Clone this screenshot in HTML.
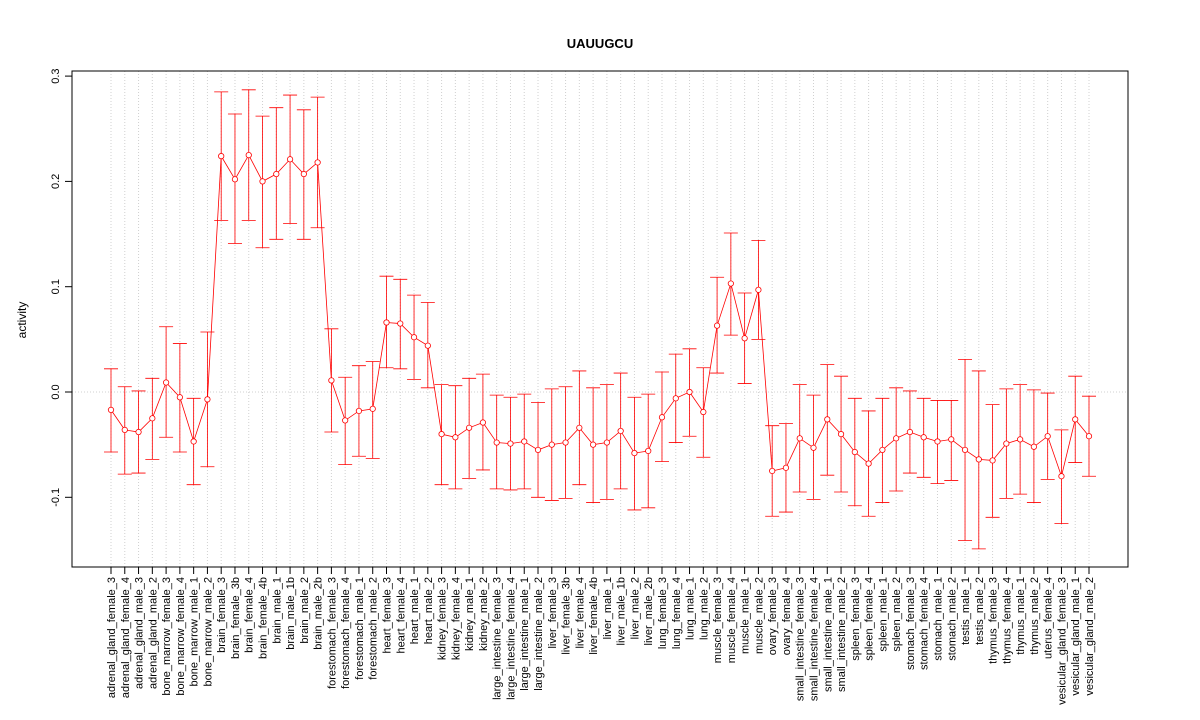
<!DOCTYPE html>
<html><head><meta charset="utf-8"><style>body{margin:0;background:#fff}svg{display:block;font-family:"Liberation Sans",sans-serif}</style></head>
<body>
<svg id="chart" width="1200" height="720" xmlns="http://www.w3.org/2000/svg">
<text x="600" y="48" text-anchor="middle" font-size="13" font-weight="bold">UAUUGCU</text>
<text transform="translate(26,320) rotate(-90)" text-anchor="middle" font-size="12">activity</text>
<g id="grid"></g><g id="axes"></g><g id="marks"></g>
<rect x="72" y="71" width="1056" height="496" fill="none" stroke="#000"/>
</svg>
<script>
const categories=["adrenal_gland_female_3","adrenal_gland_female_4","adrenal_gland_male_3","adrenal_gland_male_2","bone_marrow_female_3","bone_marrow_female_4","bone_marrow_male_1","bone_marrow_male_2","brain_female_3","brain_female_3b","brain_female_4","brain_female_4b","brain_male_1","brain_male_1b","brain_male_2","brain_male_2b","forestomach_female_3","forestomach_female_4","forestomach_male_1","forestomach_male_2","heart_female_3","heart_female_4","heart_male_1","heart_male_2","kidney_female_3","kidney_female_4","kidney_male_1","kidney_male_2","large_intestine_female_3","large_intestine_female_4","large_intestine_male_1","large_intestine_male_2","liver_female_3","liver_female_3b","liver_female_4","liver_female_4b","liver_male_1","liver_male_1b","liver_male_2","liver_male_2b","lung_female_3","lung_female_4","lung_male_1","lung_male_2","muscle_female_3","muscle_female_4","muscle_male_1","muscle_male_2","ovary_female_3","ovary_female_4","small_intestine_female_3","small_intestine_female_4","small_intestine_male_1","small_intestine_male_2","spleen_female_3","spleen_female_4","spleen_male_1","spleen_male_2","stomach_female_3","stomach_female_4","stomach_male_1","stomach_male_2","testis_male_1","testis_male_2","thymus_female_3","thymus_female_4","thymus_male_1","thymus_male_2","uterus_female_4","vesicular_gland_female_3","vesicular_gland_male_1","vesicular_gland_male_2"];
const values=[-0.017,-0.036,-0.038,-0.025,0.009,-0.005,-0.047,-0.007,0.224,0.202,0.225,0.2,0.207,0.221,0.207,0.218,0.011,-0.027,-0.018,-0.016,0.066,0.065,0.052,0.044,-0.04,-0.043,-0.034,-0.029,-0.048,-0.049,-0.047,-0.055,-0.05,-0.048,-0.034,-0.05,-0.048,-0.037,-0.058,-0.056,-0.024,-0.006,0.0,-0.019,0.063,0.103,0.051,0.097,-0.075,-0.072,-0.044,-0.053,-0.026,-0.04,-0.057,-0.068,-0.055,-0.044,-0.038,-0.043,-0.047,-0.045,-0.055,-0.064,-0.065,-0.049,-0.045,-0.052,-0.042,-0.08,-0.026,-0.042];
const upper=[0.022,0.005,0.001,0.013,0.062,0.046,-0.006,0.057,0.285,0.264,0.287,0.262,0.27,0.282,0.268,0.28,0.06,0.014,0.025,0.029,0.11,0.107,0.092,0.085,0.007,0.006,0.013,0.017,-0.003,-0.005,-0.002,-0.01,0.003,0.005,0.02,0.004,0.007,0.018,-0.005,-0.002,0.019,0.036,0.041,0.023,0.109,0.151,0.094,0.144,-0.032,-0.03,0.007,-0.003,0.026,0.015,-0.006,-0.018,-0.006,0.004,0.001,-0.006,-0.008,-0.008,0.031,0.02,-0.012,0.003,0.007,0.002,-0.001,-0.036,0.015,-0.004];
const lower=[-0.057,-0.078,-0.077,-0.064,-0.043,-0.057,-0.088,-0.071,0.163,0.141,0.163,0.137,0.145,0.16,0.145,0.156,-0.038,-0.069,-0.061,-0.063,0.023,0.022,0.012,0.004,-0.088,-0.092,-0.082,-0.074,-0.092,-0.093,-0.092,-0.1,-0.103,-0.101,-0.088,-0.105,-0.102,-0.092,-0.112,-0.11,-0.066,-0.048,-0.042,-0.062,0.018,0.054,0.008,0.05,-0.118,-0.114,-0.095,-0.102,-0.079,-0.095,-0.108,-0.118,-0.105,-0.094,-0.077,-0.081,-0.087,-0.084,-0.141,-0.149,-0.119,-0.101,-0.097,-0.105,-0.083,-0.125,-0.067,-0.08];
const yTicks=[-0.1,0.0,0.1,0.2,0.3];
const yTickLabels=["-0.1","0.0","0.1","0.2","0.3"];
const NS="http://www.w3.org/2000/svg";
const xS=i=>111+i*(1089-111)/(categories.length-1);
const yS=v=>392-v*1053;
function mk(tag,attrs,parent){const e=document.createElementNS(NS,tag);for(const k in attrs)e.setAttribute(k,attrs[k]);parent.appendChild(e);return e;}
const grid=document.getElementById('grid'),axes=document.getElementById('axes'),marks=document.getElementById('marks');
categories.forEach((c,i)=>{
  const g=mk('line',{x1:xS(i),x2:xS(i),y1:71,y2:567,stroke:'#d0d0d0','stroke-dasharray':'1,2'},grid);
  
  
  const t=mk('line',{x1:xS(i),x2:xS(i),y1:567,y2:574,stroke:'#000'},axes);
  
  
  const l=mk('text',{transform:`translate(${xS(i)+4},577) rotate(-90)`,'text-anchor':'end','font-size':'11'},axes);
  l.textContent=c;
  
  
});
const zl=mk('line',{x1:72,x2:1128,y1:yS(0),y2:yS(0),stroke:'#d0d0d0','stroke-dasharray':'1,2'},grid);


const ax=mk('line',{x1:72,x2:72,y1:yS(-0.1),y2:yS(0.3),stroke:'#000'},axes);


yTicks.forEach((v,i)=>{
  const t=mk('line',{x1:65,x2:72,y1:yS(v),y2:yS(v),stroke:'#000'},axes);
  
  
  const l=mk('text',{transform:`translate(59,${yS(v)}) rotate(-90)`,'text-anchor':'middle','font-size':'11'},axes);
  l.textContent=yTickLabels[i];
  
  
});
const line=mk('polyline',{points:values.map((v,i)=>xS(i)+','+yS(v)).join(' '),fill:'none',stroke:'#f00','stroke-width':'0.8'},marks);


values.forEach((v,i)=>{
  const x=xS(i);
  const eb=mk('path',{d:`M${x},${yS(upper[i])}V${yS(lower[i])}M${x-7},${yS(upper[i])}H${x+7}M${x-7},${yS(lower[i])}H${x+7}`,stroke:'#f00',fill:'none','stroke-width':'0.8'},marks);
  
  
  const p=mk('circle',{cx:x,cy:yS(v),r:2.7,fill:'#fff',stroke:'#f00','stroke-width':'0.8'},marks);
  
  
});
</script>
</body></html>
